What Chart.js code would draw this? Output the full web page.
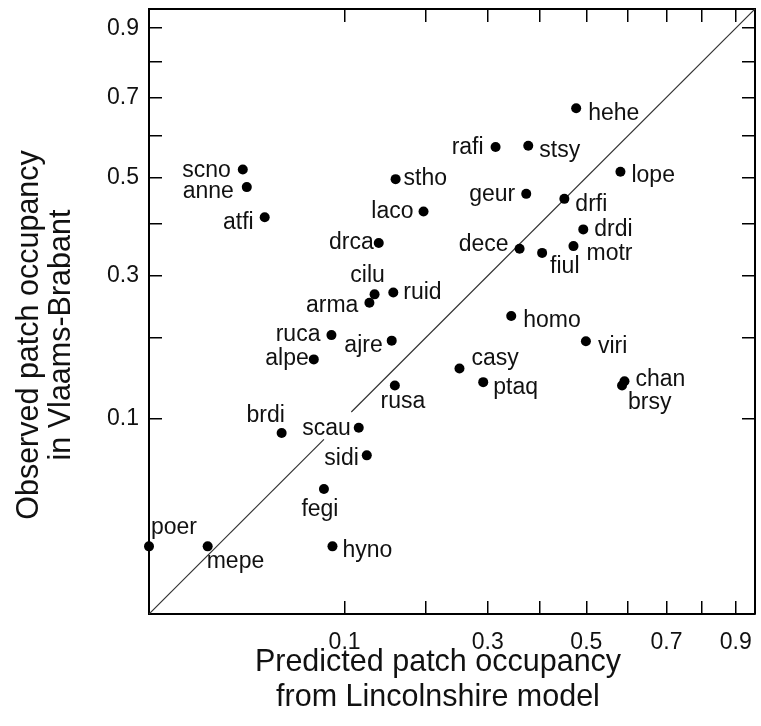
<!DOCTYPE html>
<html><head><meta charset="utf-8">
<script src="https://cdn.jsdelivr.net/npm/chart.js@4.4.0/dist/chart.umd.min.js"></script>
<style>html,body{margin:0;padding:0;background:#fff;}#wrap{width:761px;height:726px;}</style>
</head><body><div id="wrap"><canvas id="c" width="761" height="726"></canvas></div>
<script>
// ---- data ----
const species = ['scno','anne','atfi','stho','laco','drca','cilu','arma','ruid','ruca','ajre','alpe','rusa','brdi','scau','sidi','fegi','poer','mepe','hyno','hehe','rafi','stsy','lope','geur','drfi','drdi','dece','fiul','motr','homo','viri','casy','ptaq','chan','brsy'];
const predicted = [0.023,0.025,0.035,0.159,0.197,0.138,0.133,0.127,0.156,0.087,0.154,0.071,0.158,0.046,0.115,0.124,0.080,0.000,0.009,0.088,0.477,0.314,0.376,0.581,0.372,0.451,0.493,0.359,0.404,0.471,0.343,0.499,0.252,0.292,0.591,0.585];
const observed  = [0.518,0.478,0.413,0.496,0.425,0.361,0.268,0.254,0.271,0.204,0.196,0.170,0.137,0.086,0.091,0.066,0.041,0.012,0.012,0.012,0.671,0.572,0.575,0.513,0.463,0.452,0.388,0.350,0.342,0.355,0.233,0.195,0.158,0.141,0.142,0.137];
const tickValues = [0.1,0.2,0.3,0.4,0.5,0.6,0.7,0.8,0.9];
const tickLabels = ['0.1','','0.3','','0.5','','0.7','','0.9'];
const axisMin = 0, axisMax = 0.96;
const diagonalSegments = [[0, 0.080], [0.107, 0.96]];
const xTitle = ['Predicted patch occupancy', 'from Lincolnshire model'];
const yTitle = ['Observed patch occupancy', 'in Vlaams-Brabant'];

// ---- label placement (style: alignment, pixel offset from the dot) ----
const labelPlacement = {
  scno:['right',-12,7], anne:['right',-13,11], atfi:['right',-11,12], stho:['left',8,6],
  laco:['right',-10,7], drca:['right',-5,6], cilu:['center',-7,-12], arma:['right',-11,9],
  ruid:['left',10,6], ruca:['right',-11,6], ajre:['right',-9,11], alpe:['right',-5,6],
  rusa:['center',8,23], brdi:['center',-16,-11], scau:['right',-8,7], sidi:['right',-8,10],
  fegi:['center',-4,27], poer:['left',2,-12], mepe:['left',-1,22], hyno:['left',10,11],
  hehe:['left',12,12], rafi:['right',-12,7], stsy:['left',11,11], lope:['left',11,10],
  geur:['right',-11,7], drfi:['left',11,12], drdi:['left',11,7], dece:['right',-11,2],
  fiul:['left',8,20], motr:['left',13,14], homo:['left',12,11], viri:['left',12,12],
  casy:['left',12,-4], ptaq:['left',10,12], chan:['left',11,5], brsy:['left',6,24]
};

const FONT = '"Liberation Sans", Arial, Helvetica, sans-serif';

// ---- square-root scale ----
class SqrtScale extends Chart.LinearScale {
  static id = 'sqrt';
  static defaults = {};
  configure() {
    super.configure();
    this._sqMin = Math.sqrt(Math.max(this.min, 0));
    this._sqRange = Math.sqrt(this.max) - this._sqMin;
  }
  getPixelForValue(value) {
    if (value === null || value === undefined || isNaN(value)) return NaN;
    return this.getPixelForDecimal((Math.sqrt(Math.max(value, 0)) - this._sqMin) / this._sqRange);
  }
  getValueForPixel(pixel) {
    const s = this._sqMin + this.getDecimalForPixel(pixel) * this._sqRange;
    return s * s;
  }
}
Chart.register(SqrtScale);

function axis(pos, showLabels, size, pad) {
  return {
    type: 'sqrt', position: pos, min: axisMin, max: axisMax, bounds: 'data',
    afterBuildTicks: s => { s.ticks = tickValues.map(v => ({ value: v })); },
    afterFit: s => {
      if (pos === 'left' || pos === 'right') s.width = size; else s.height = size;
      s.paddingTop = 0; s.paddingBottom = 0; s.paddingLeft = 0; s.paddingRight = 0;
    },
    ticks: {
      display: showLabels, autoSkip: false, maxRotation: 0, minRotation: 0,
      callback: (v, i) => tickLabels[i], color: '#111', padding: pad,
      font: { family: FONT, size: 23 }
    },
    grid: { drawOnChartArea: false, drawTicks: true, tickLength: -13, color: '#000', lineWidth: 1.5 },
    border: { display: true, color: '#000', width: 2 }
  };
}

const pointLabels = {
  id: 'pointLabels',
  afterDatasetsDraw(chart) {
    const meta = chart.getDatasetMeta(0);
    const ctx = chart.ctx;
    ctx.save();
    ctx.font = '23px ' + FONT;
    ctx.fillStyle = '#111';
    ctx.textBaseline = 'alphabetic';
    meta.data.forEach((pt, i) => {
      const p = labelPlacement[species[i]];
      ctx.textAlign = p[0];
      ctx.fillText(species[i], pt.x + p[1], pt.y + p[2]);
    });
    ctx.restore();
  }
};

const axisTitles = {
  id: 'axisTitles',
  afterDraw(chart) {
    const a = chart.chartArea, ctx = chart.ctx;
    ctx.save();
    ctx.font = '30.5px ' + FONT;
    ctx.fillStyle = '#111';
    ctx.textAlign = 'center';
    ctx.textBaseline = 'middle';
    const cx = a.left + 289;
    ctx.fillText(xTitle[0], cx, a.bottom + 49);
    ctx.fillText(xTitle[1], cx, a.bottom + 84);
    ctx.translate(30, a.top + 326);
    ctx.rotate(-Math.PI / 2);
    ctx.fillText(yTitle[0], 0, 0);
    ctx.fillText(yTitle[1], 0, 32);
    ctx.restore();
  }
};

const datasets = [{
  type: 'scatter',
  data: species.map((s, i) => ({ x: predicted[i], y: observed[i] })),
  backgroundColor: '#000', borderColor: '#000', pointRadius: 5, pointBorderWidth: 0, clip: false
}];
diagonalSegments.forEach(seg => datasets.push({
  type: 'scatter', showLine: true,
  data: seg.map(v => ({ x: v, y: v })),
  borderColor: '#333', borderWidth: 1.2, pointRadius: 0, fill: false
}));

new Chart(document.getElementById('c'), {
  type: 'scatter',
  data: { datasets },
  options: {
    responsive: false, animation: false, devicePixelRatio: 1,
    layout: { padding: 0 },
    plugins: { legend: { display: false }, tooltip: { enabled: false } },
    scales: {
      x: axis('bottom', true, 112, 28),
      x2: axis('top', false, 9, 0),
      y: axis('left', true, 149, 23),
      y2: axis('right', false, 6, 0)
    }
  },
  plugins: [pointLabels, axisTitles]
});
</script>
</body></html>
